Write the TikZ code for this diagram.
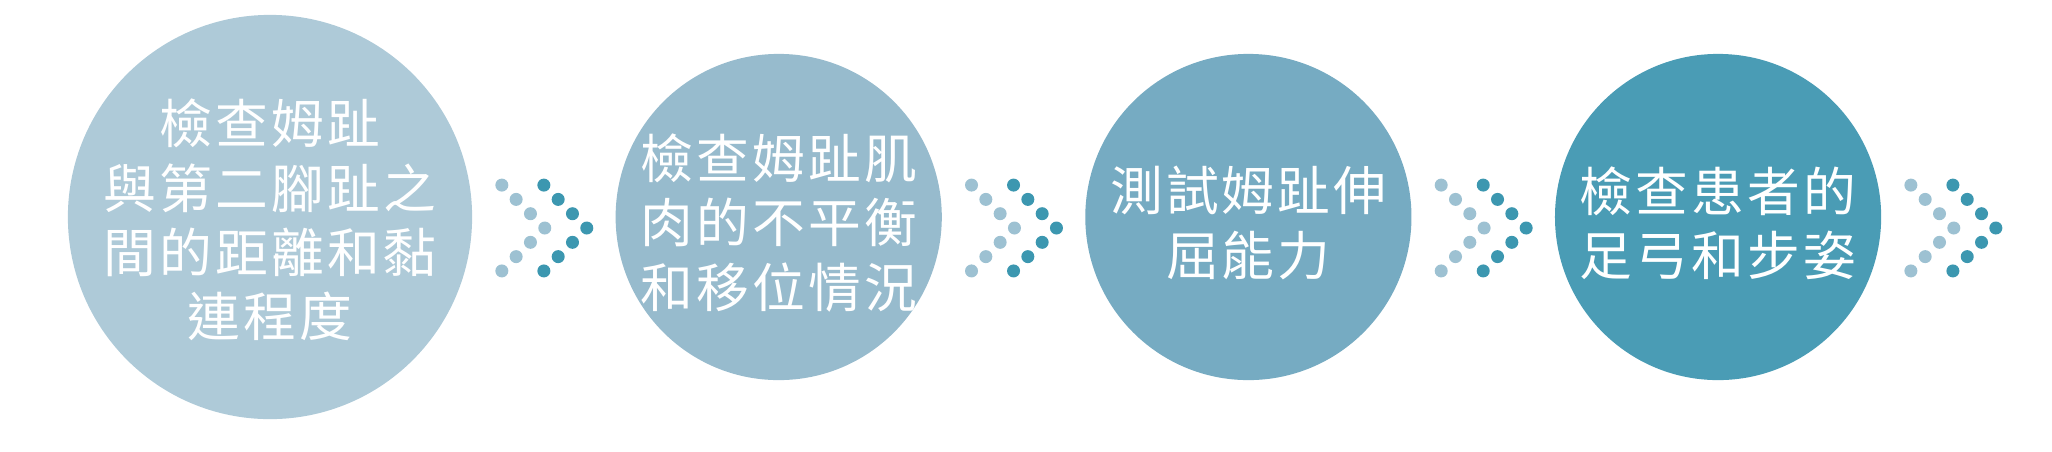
\documentclass[tikz,border=0pt]{standalone}
\usepackage{fontspec}
\usepackage{xcolor}
\usetikzlibrary{positioning}
\newfontfamily\cjk[LetterSpace=6]{Noto Sans CJK TC}
\definecolor{stepa}{HTML}{AECAD8}
\definecolor{stepb}{HTML}{97BBCD}
\definecolor{stepc}{HTML}{76ABC2}
\definecolor{stepd}{HTML}{4A9CB5}
\definecolor{dotl}{HTML}{9DC1D2}
\definecolor{dotd}{HTML}{3C97B0}

\begin{document}
\begin{tikzpicture}[x=0.01cm, y=-0.01cm, node distance=1.42cm,
                    stepcircle/.style={circle, draw=none, inner sep=0pt, minimum size=3.26cm},
                    steptext/.style={inner sep=0pt, text=white, align=center, yshift=-0.06cm, font=\cjk\fontsize{15}{18.3}\selectfont},
                    ]
                    \useasboundingbox (0,0) rectangle (2052,451);

                    \node [stepcircle, fill=stepa, minimum size=4.04cm](1) at (270,217){};
                    \node [stepcircle, fill=stepb](2) [right = of 1]{};
                    \node [stepcircle, fill=stepc](3) [right = of 2]{};
                    \node [stepcircle, fill=stepd](4) [right = of 3]{};

                    \node [steptext, yshift=0.03cm](t1) at (1){檢查姆趾\\與第二腳趾之\\間的距離和黏\\連程度};
                    \node [steptext](t2) at (2){檢查姆趾肌\\肉的不平衡\\和移位情況};
                    \node [steptext](t3) at (3){測試姆趾伸\\屈能力};
                    \node [steptext](t4) at (4){檢查患者的\\足弓和步姿};

                    % dotted chevrons after each circle
                    \foreach \n in {1,...,4}{
                        \coordinate (a\n) at ([xshift=0.29cm, yshift=-0.11cm]\n.east);
                        \foreach \i in {-3,...,3}{
                            \fill[dotl] ([xshift={(3-abs(\i))*0.143cm}, yshift={-\i*0.143cm}]a\n) circle (0.065cm);
                            \fill[dotd] ([xshift={(3-abs(\i))*0.143cm+0.42cm}, yshift={-\i*0.143cm}]a\n) circle (0.065cm);
                        }
                    }

                \end{tikzpicture}
\end{document}
